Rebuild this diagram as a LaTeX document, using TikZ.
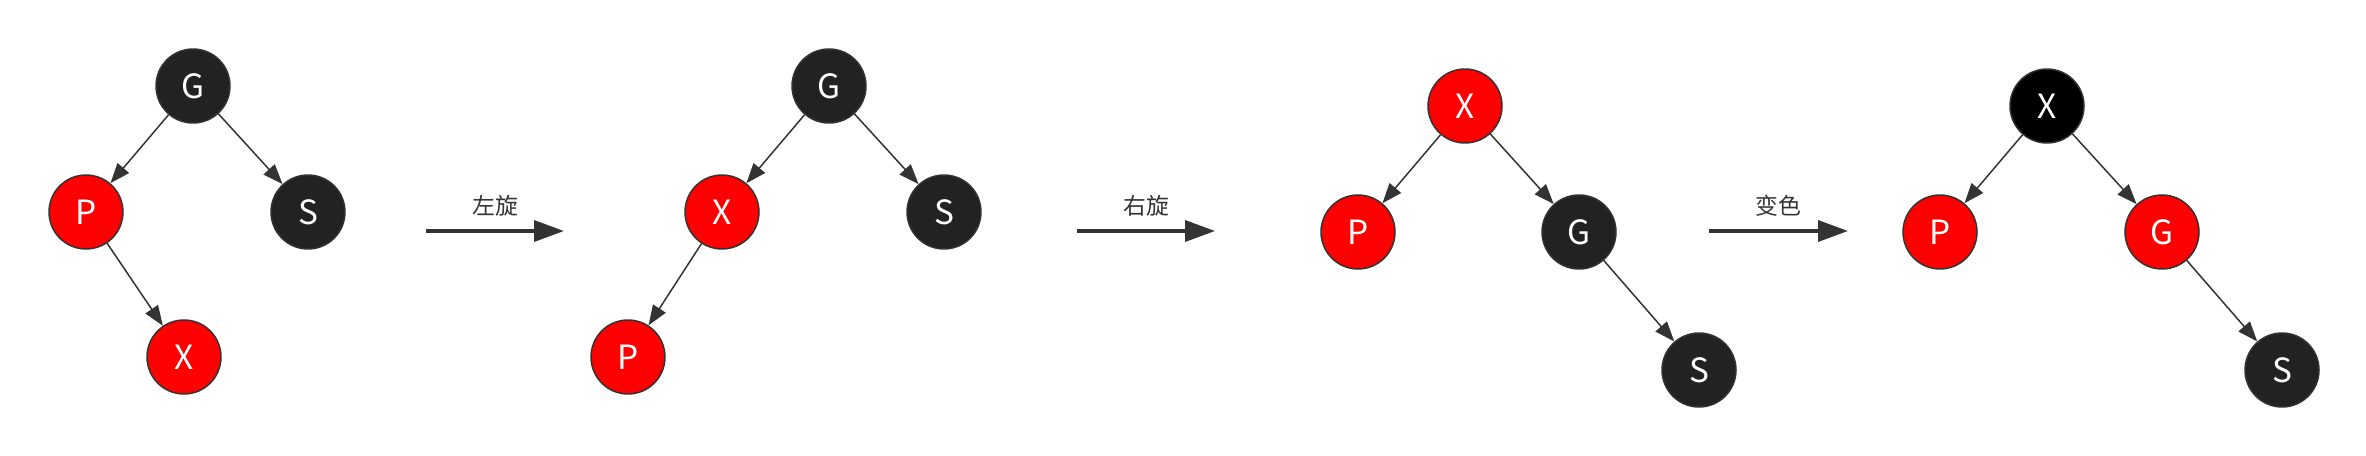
\documentclass[tikz,border=0pt]{standalone}
\usepackage{fontspec}
\usepackage{tikz}
\usetikzlibrary{arrows.meta}
\newfontfamily\cjk{Noto Sans CJK SC}
\definecolor{rbred}{HTML}{FF0000}
\definecolor{rbdark}{HTML}{222222}
\definecolor{rbline}{HTML}{333333}
\tikzset{
  rbnode/.style = {circle, draw=rbline, line width=0.85pt, minimum size=1.48cm, inner sep=0pt,
                   text=white, font=\cjk\fontsize{19}{22}\selectfont},
  rnode/.style = {rbnode, fill=rbred},
  bnode/.style = {rbnode, fill=rbdark},
  step arrow/.style = {-{Triangle[length=0.6cm, width=0.42cm]}, draw=rbline, line width=2pt},
  step label/.style = {midway, yshift=0.5cm, text=rbline, font=\cjk\fontsize{13}{15}\selectfont}
}

\begin{document}
\begin{tikzpicture}[x=0.02cm, y=-0.02cm, ->, >={Triangle[length=0.4cm, width=0.3cm]},
    every edge/.style={draw=rbline, line width=0.85pt}]
\useasboundingbox (0,0) rectangle (2366,456);
% before
\node[bnode] (G1) at (193,86) {G};
\node[rnode] (P1) at (86,212) {P};
\node[bnode] (S1) at (308,212) {S};
\node[rnode] (X1) at (184,357) {X};
\path (G1) edge (P1);
\path (G1) edge (S1);
\path (P1) edge (X1);
% left rotation
\coordinate (a1) at (426,231);
\coordinate (a2) at (564,231);
\draw[step arrow] (a1) -- node[step label] {左旋} (a2);
\node[bnode] (G2) at (829,86) {G};
\node[rnode] (X2) at (722,212) {X};
\node[bnode] (S2) at (944,212) {S};
\node[rnode] (P2) at (628,357) {P};
\path (G2) edge (X2);
\path (G2) edge (S2);
\path (X2) edge (P2);
% right rotation
\coordinate (b1) at (1077,231);
\coordinate (b2) at (1215,231);
\draw[step arrow] (b1) -- node[step label] {右旋} (b2);
\node[rnode] (X3) at (1465,106) {X};
\node[rnode] (P3) at (1358,232) {P};
\node[bnode] (G3) at (1579,232) {G};
\node[bnode] (S3) at (1699,370) {S};
\path (X3) edge (P3);
\path (X3) edge (G3);
\path (G3) edge (S3);
% recolour
\coordinate (c1) at (1709,231);
\coordinate (c2) at (1848,231);
\draw[step arrow] (c1) -- node[step label] {变色} (c2);
\node[rbnode, fill=black] (X4) at (2047,106) {X};
\node[rnode] (P4) at (1940,232) {P};
\node[rnode] (G4) at (2162,232) {G};
\node[bnode] (S4) at (2282,370) {S};
\path (X4) edge (P4);
\path (X4) edge (G4);
\path (G4) edge (S4);
\end{tikzpicture}
\end{document}
